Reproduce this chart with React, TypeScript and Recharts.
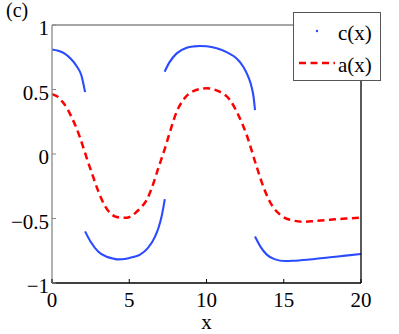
import { LineChart, Line, XAxis, YAxis, Legend } from 'recharts';

const FONT = '"Liberation Serif", "Times New Roman", serif';
const BLUE = '#2a4bff';
const RED = '#ff0000';

// c(x) is discontinuous: four separate branches
const c1X = [0, 0.4, 0.8, 1.2, 1.6, 1.9, 2.14];
const c1Y = [0.81, 0.8, 0.78, 0.74, 0.68, 0.61, 0.48];

const c2X = [2.14, 2.5, 3.0, 3.5, 4.0, 4.3, 4.8, 5.2, 5.7, 6.2, 6.67, 6.9, 7.1, 7.2, 7.3];
const c2Y = [-0.6, -0.68, -0.757, -0.795, -0.812, -0.817, -0.812, -0.8, -0.78, -0.73, -0.64, -0.57, -0.48, -0.42, -0.35];

const c3X = [7.29, 7.6, 8.07, 8.72, 9.2, 9.58, 10.0, 10.66, 11.3, 11.95, 12.38, 12.7, 12.92, 13.05, 13.14];
const c3Y = [0.638, 0.71, 0.78, 0.824, 0.834, 0.837, 0.835, 0.82, 0.79, 0.74, 0.677, 0.6, 0.52, 0.44, 0.34];

const c4X = [13.14, 13.5, 13.9, 14.4, 15.08, 15.6, 16.5, 18, 19, 20];
const c4Y = [-0.64, -0.72, -0.78, -0.815, -0.83, -0.828, -0.82, -0.8, -0.788, -0.775];

const aX = [0, 0.35, 0.71, 1.0, 1.25, 1.5, 1.79, 2.11, 2.44, 2.76, 3.0, 3.41, 3.7, 4.06, 4.4, 4.81, 5.15, 5.46, 5.8, 6.13, 6.45, 6.88, 7.31, 7.64, 8.07, 8.5, 9.15, 10.0, 10.76, 11.52, 12.06, 12.6, 13.25, 13.7, 14.1, 14.76, 15.4, 16.3, 17, 18, 19, 20];
const aY = [0.463, 0.445, 0.4, 0.35, 0.29, 0.225, 0.135, 0.02, -0.1, -0.21, -0.29, -0.4, -0.45, -0.483, -0.492, -0.494, -0.48, -0.45, -0.41, -0.357, -0.266, -0.11, 0.044, 0.173, 0.328, 0.419, 0.488, 0.509, 0.488, 0.419, 0.302, 0.147, -0.1, -0.26, -0.37, -0.47, -0.51, -0.525, -0.52, -0.51, -0.5, -0.494];

const xTicks = [0, 5, 10, 15, 20];
const yTicks = [-1, -0.5, 0, 0.5, 1];

const toPoints = (xs: number[], ys: number[]) => xs.map((x, i) => ({ x, v: ys[i] }));

const cSegments = [toPoints(c1X, c1Y), toPoints(c2X, c2Y), toPoints(c3X, c3Y), toPoints(c4X, c4Y)];
const aData = toPoints(aX, aY);

const fmt = (v: number) => (v < 0 ? '\u2212' + Math.abs(v) : String(v));

const BottomTick = (props: any) => {
  const { x, y, payload } = props;
  return (
    <g>
      <line x1={x} x2={x} y1={y} y2={y - 4} stroke="#000" />
      <text x={x} y={y + 24} textAnchor="middle" fontSize={21} fontFamily={FONT} fill="#000">
        {payload.value}
      </text>
    </g>
  );
};

const TopTick = (props: any) => {
  const { x, y } = props;
  return <line x1={x} x2={x} y1={y} y2={y + 4} stroke="#888" />;
};

const LeftTick = (props: any) => {
  const { x, y, payload } = props;
  return (
    <g>
      <line x1={x} x2={x + 4} y1={y} y2={y} stroke="#888" />
      <text x={x - 3} y={y + 10} textAnchor="end" fontSize={21} fontFamily={FONT} fill="#000">
        {fmt(payload.value)}
      </text>
    </g>
  );
};

const RightTick = (props: any) => {
  const { x, y } = props;
  return <line x1={x} x2={x - 4} y1={y} y2={y} stroke="#000" />;
};

const LegendBox = () => (
  <svg width={88} height={69} style={{ display: 'block' }}>
    <rect x={0.5} y={0.5} width={87} height={68} fill="#fff" stroke="#555" />
    <circle cx={24} cy={19} r={1.2} fill={BLUE} />
    <text x={45} y={28} fontSize={21} fontFamily={FONT} fill="#000">c(x)</text>
    <line x1={6} x2={42} y1={51} y2={51} stroke={RED} strokeWidth={2.5} strokeDasharray="7 4.5" />
    <text x={45} y={60} fontSize={21} fontFamily={FONT} fill="#000">a(x)</text>
  </svg>
);

export default function App() {
  return (
    <div style={{ position: 'absolute', left: 0, top: 0, background: '#fff' }}>
      <LineChart width={399} height={334} margin={{ top: 24, right: 37, bottom: 50, left: 51 }}>
        <XAxis
          dataKey="x"
          type="number"
          domain={[0, 20]}
          ticks={xTicks}
          height={1}
          tickSize={0}
          tickMargin={0}
          tick={<BottomTick />}
          tickLine={false}
          axisLine={{ stroke: '#000', strokeWidth: 1.3 }}
          allowDataOverflow
          label={{ value: 'x', position: 'bottom', offset: 30, fontSize: 21, fill: '#000', fontFamily: FONT }}
        />
        <XAxis
          xAxisId="top"
          orientation="top"
          dataKey="x"
          type="number"
          domain={[0, 20]}
          ticks={xTicks}
          height={1}
          tickSize={0}
          tickMargin={0}
          tick={<TopTick />}
          tickLine={false}
          axisLine={{ stroke: '#888', strokeWidth: 1.3 }}
          label={{
            content: () => (
              <text x={6} y={17} fontSize={20} fontFamily={FONT} fill="#000">(c)</text>
            ),
          }}
        />
        <YAxis
          type="number"
          domain={[-1, 1]}
          ticks={yTicks}
          width={1}
          tickSize={0}
          tickMargin={0}
          tick={<LeftTick />}
          tickLine={false}
          axisLine={{ stroke: '#888', strokeWidth: 1.3 }}
          allowDataOverflow
        />
        <YAxis
          yAxisId="right"
          orientation="right"
          type="number"
          domain={[-1, 1]}
          ticks={yTicks}
          width={1}
          tickSize={0}
          tickMargin={0}
          tick={<RightTick />}
          tickLine={false}
          axisLine={{ stroke: '#000', strokeWidth: 1.3 }}
        />
        {cSegments.map((seg, i) => (
          <Line
            key={'c' + i}
            data={seg}
            dataKey="v"
            type="monotone"
            stroke={BLUE}
            strokeWidth={2.1}
            dot={false}
            isAnimationActive={false}
            legendType="none"
          />
        ))}
        <Line
          data={aData}
          dataKey="v"
          type="monotone"
          stroke={RED}
          strokeWidth={2.5}
          strokeDasharray="7 4.5"
          dot={false}
          isAnimationActive={false}
        />
        <Legend
          layout="vertical"
          align="center"
          verticalAlign="middle"
          content={() => <LegendBox />}
          wrapperStyle={{ left: 293, top: 12, width: 88, height: 69 }}
        />
      </LineChart>
    </div>
  );
}
